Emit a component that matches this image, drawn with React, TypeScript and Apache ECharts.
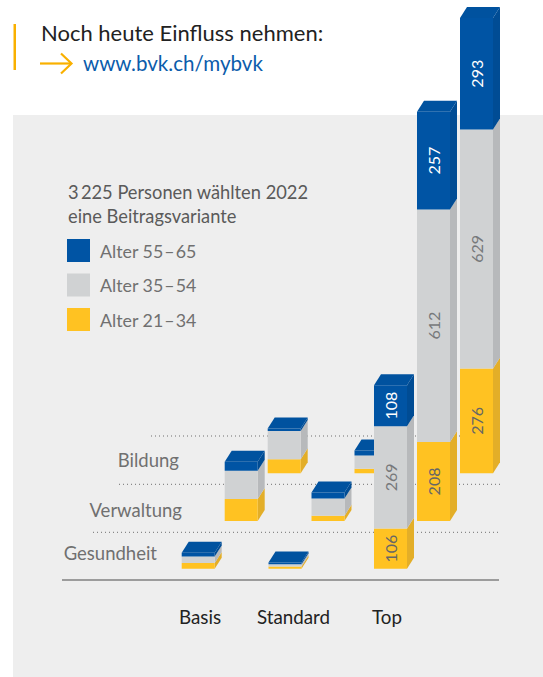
import React, { useEffect, useRef } from "react";
import * as echarts from "echarts";

const FONT = "Lato, 'Open Sans', sans-serif";
const tiers = ["Basis", "Standard", "Top"];
const rows = ["Gesundheit", "Verwaltung", "Bildung"];
const ageNames = ["Alter 55\u200A\u2013\u200A65", "Alter 35\u200A\u2013\u200A54", "Alter 21\u200A\u2013\u200A34"];

// values per row: [Basis, Standard, Top]
const young = { Gesundheit: [15, 6, 106], Verwaltung: [58, 14, 208], Bildung: [37, 12, 276] };
const middle = { Gesundheit: [17, 6, 269], Verwaltung: [74, 45, 612], Bildung: [74, 35, 629] };
const older = { Gesundheit: [10, 4, 108], Verwaltung: [24, 16, 257], Bildung: [7, 13, 293] };

const tierShift = [-1.8, -8.5, 3.5];
const ROW_DX = 43;
const ROW_DY = 47.7;
const BAR_W = 33;
const DEPTH_X = 7;
const DEPTH_Y = 11;

const palette = [
  { front: "#0054A4", side: "#004C94", top: "#00529F", text: "#FFFFFF" },
  { front: "#D0D2D3", side: "#B7B9BB", top: "#D0D2D3", text: "#77797B" },
  { front: "#FFC222", side: "#E3AE28", top: "#FFC222", text: "#666666" },
];

function segments(age: number) {
  const out: number[][] = [];
  rows.forEach((r, ri) => {
    tiers.forEach((_, ti) => {
      const y = (young as any)[r][ti];
      const m = (middle as any)[r][ti];
      const o = (older as any)[r][ti];
      const base = age === 2 ? 0 : age === 1 ? y : y + m;
      const val = age === 2 ? y : age === 1 ? m : o;
      out.push([ti, ri, base, val]);
    });
  });
  return out;
}

function makeRender(age: number) {
  return (_p: any, api: any) => {
    const ti = api.value(0);
    const ri = api.value(1);
    const base = api.value(2);
    const val = api.value(3);
    const p0 = api.coord([ti, base]);
    const p1 = api.coord([ti, base + val]);
    const x = p0[0] + tierShift[ti] - BAR_W / 2 + ri * ROW_DX;
    const y0 = p0[1] - ri * ROW_DY;
    const y1 = p1[1] - ri * ROW_DY;
    const c = palette[age];
    const z = (2 - ri) * 10 + (2 - age);
    const children: any[] = [
      {
        type: "polygon",
        z2: z,
        shape: { points: [[x + BAR_W, y0], [x + BAR_W + DEPTH_X, y0 - DEPTH_Y], [x + BAR_W + DEPTH_X, y1 - DEPTH_Y], [x + BAR_W, y1]] },
        style: { fill: c.side },
      },
      {
        type: "rect",
        z2: z,
        shape: { x, y: y1, width: BAR_W, height: y0 - y1 },
        style: { fill: c.front },
      },
    ];
    if (age === 0) {
      children.push({
        type: "polygon",
        z2: z,
        shape: { points: [[x, y1], [x + BAR_W, y1], [x + BAR_W + DEPTH_X, y1 - DEPTH_Y], [x + DEPTH_X, y1 - DEPTH_Y]] },
        style: { fill: c.top },
      });
    }
    if (ti === 2) {
      children.push({
        type: "text",
        z2: z + 1,
        x: x + BAR_W / 2,
        y: (y0 + y1) / 2,
        rotation: Math.PI / 2,
        style: {
          text: String(val),
          fill: c.text,
          font: `400 16px ${FONT}`,
          align: "center",
          verticalAlign: "middle",
        },
      });
    }
    return { type: "group", children };
  };
}

export default function App() {
  const ref = useRef<HTMLDivElement>(null);
  useEffect(() => {
    const chart = echarts.init(ref.current!, undefined, { renderer: "svg" });
    const rowLabel = (text: string, right: number, y: number) => ({
      type: "text",
      z: 1,
      style: { text, x: right, y, align: "right", verticalAlign: "middle", fill: "#707070", font: `400 18.5px ${FONT}` },
    });
    const dotted = (x1: number, y: number) => ({
      type: "line",
      z: 0,
      shape: { x1, y1: y, x2: 500, y2: y },
      style: { stroke: "#6E6E6E", lineWidth: 1, lineDash: [1, 3] },
    });
    chart.setOption({
      animation: false,
      backgroundColor: "#FFFFFF",
      title: {
        text: "3\u2009225 Personen wählten 2022\neine Beitragsvariante",
        left: 68,
        top: 180,
        padding: 0,
        textStyle: { color: "#5A5A5A", fontFamily: FONT, fontSize: 18.3, fontWeight: "normal", lineHeight: 24 },
      },
      legend: {
        left: 67,
        top: 239,
        orient: "vertical",
        itemWidth: 23,
        itemHeight: 23,
        itemGap: 11.5,
        padding: 0,
        icon: "rect",
        selectedMode: false,
        data: ageNames,
        textStyle: { color: "#707070", fontFamily: FONT, fontWeight: 400, fontSize: 17.8, padding: [0, 0, 0, 5] },
      },
      grid: { left: 153.25, width: 280.5, top: 36.7, height: 532 },
      xAxis: {
        type: "category",
        data: tiers,
        axisLine: { show: false },
        axisTick: { show: false },
        axisLabel: { color: "#222222", fontFamily: FONT, fontSize: 18.8, margin: 38, interval: 0 },
      },
      yAxis: { type: "value", min: 0, max: 1400, show: false },
      graphic: [
        { type: "rect", z: -1, shape: { x: 13, y: 115, width: 530, height: 562 }, style: { fill: "#EEEEEE" } },
        { type: "rect", z: 1, shape: { x: 13.5, y: 24, width: 2.5, height: 46 }, style: { fill: "#F9B000" } },
        { type: "text", z: 1, style: { text: "Noch heute Einfluss nehmen:", x: 41, y: 32, verticalAlign: "middle", fill: "#222222", font: `22px ${FONT}` } },
        { type: "text", z: 1, style: { text: "www.bvk.ch/mybvk", x: 83, y: 63, verticalAlign: "middle", fill: "#0B5CAB", font: `20.6px ${FONT}` } },
        { type: "line", z: 1, shape: { x1: 40, y1: 63.5, x2: 71, y2: 63.5 }, style: { stroke: "#F9B000", lineWidth: 2.2 } },
        { type: "polyline", z: 1, shape: { points: [[61, 53.5], [71.5, 63.5], [61, 73.5]] }, style: { stroke: "#F9B000", lineWidth: 2.2, fill: "none" } },
        dotted(151, 436),
        dotted(119, 484.3),
        dotted(93, 532.3),
        { type: "line", z: 1, shape: { x1: 62, y1: 580, x2: 499, y2: 580 }, style: { stroke: "#808080", lineWidth: 1.5 } },
        rowLabel(rows[2], 179, 460),
        rowLabel(rows[1], 182, 510),
        rowLabel(rows[0], 157, 553),
      ],
      series: ageNames.map((name, age) => ({
        type: "custom",
        name,
        z: 3,
        coordinateSystem: "cartesian2d",
        itemStyle: { color: palette[age].front },
        encode: { x: 0, y: 3 },
        data: segments(age),
        renderItem: makeRender(age),
      })),
    });
    return () => chart.dispose();
  }, []);
  return <div ref={ref} style={{ position: "absolute", left: 0, top: 0, width: 543, height: 677 }} />;
}
